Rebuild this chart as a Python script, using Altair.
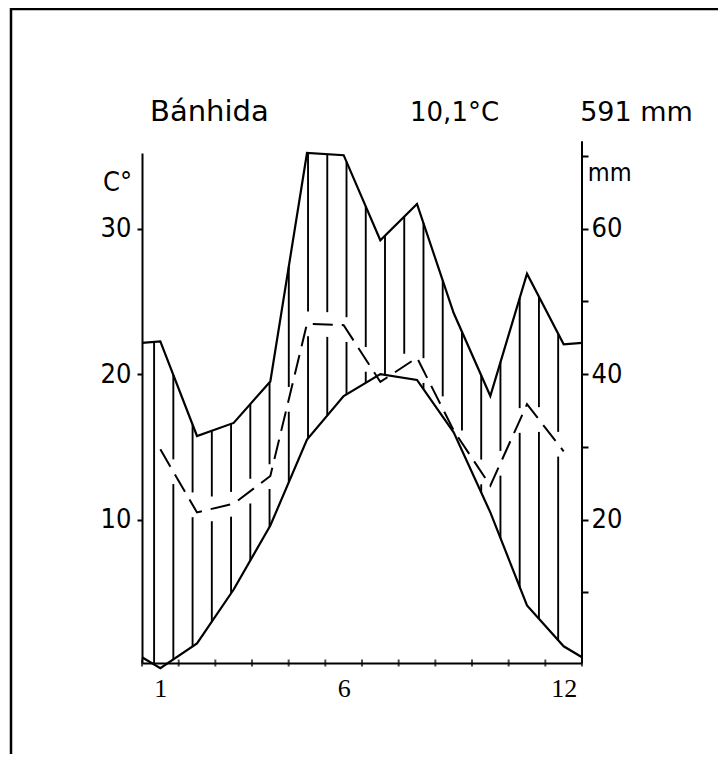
import altair as alt
import pandas as pd
import numpy as np

# ---- data (Walter-Lieth climate diagram) ----
months = list(range(1, 13))
temp_c = [-0.2, 1.5, 5.2, 9.6, 15.5, 18.5, 20.0, 19.6, 16.0, 10.5, 4.1, 1.3]
precip_mm = [44.5, 31.5, 33.3, 39.0, 70.4, 70.1, 58.4, 63.4, 48.4, 37.0, 53.8, 44.1]
station = "Bánhida"
mean_temp_label = "10,1°C"
annual_precip_label = "591 mm"
month_labels = [1, 6, 12]
temp_ticks = [10, 20, 30]
mm_ticks = [10, 20, 30, 40, 50, 60, 70]
month_bounds = [b + 0.5 for b in range(0, 13)]

# curves are closed at the diagram edges with the Dec/Jan mean
edge_t = (temp_c[0] + temp_c[-1]) / 2
edge_p = (precip_mm[0] + precip_mm[-1]) / 2
xs_ext = [0.5] + months + [12.5]
t_ext = [edge_t] + temp_c + [edge_t]
p_ext = [edge_p] + precip_mm + [edge_p]

curve = pd.DataFrame({"m": xs_ext, "t": t_ext, "p": [v / 2 for v in p_ext]})   # 10 °C = 20 mm
dashed = pd.DataFrame({"m": months, "d": [v / 3 for v in precip_mm]})          # 10 °C = 30 mm

# vertical hatching of the humid period
hx = np.linspace(0.83, 11.85, 22)
lo = np.interp(hx, xs_ext, t_ext)
hi = np.interp(hx, xs_ext, [v / 2 for v in p_ext])
dv = np.interp(hx, months, [v / 3 for v in precip_mm])
gap = 0.85
segs = []
for x, a, b, d in zip(hx, lo, hi, dv):
    if b <= a:
        continue
    if 1 <= x <= 12 and a < d < b:
        if d - gap > a:
            segs.append((x, a, d - gap))
        if d + gap < b:
            segs.append((x, d + gap, b))
    else:
        segs.append((x, a, b))
hatch = pd.DataFrame(segs, columns=["m", "y1", "y2"])

SANS = "Liberation Sans Narrow, DejaVu Sans Condensed, DejaVu Sans"
HEAD = "DejaVu Sans"

Y_MIN, Y_MAX = 0.15, 35.2
xs = alt.Scale(domain=[0.5, 12.5], nice=False, zero=False)
ys = alt.Scale(domain=[Y_MIN, Y_MAX], nice=False, zero=False)
X_AX = alt.Axis(values=month_labels, ticks=False, domain=True, domainColor="black",
                domainWidth=2, labelFont="Liberation Serif", labelFontSize=26,
                labelColor="black", labelPadding=12, grid=False, title=None)
Y_AX = alt.Axis(values=temp_ticks, domain=True, domainColor="black", domainWidth=2,
                ticks=True, tickSize=5, tickWidth=2, tickColor="black",
                labelFont=SANS, labelFontSize=27, labelColor="black",
                labelPadding=6, grid=False, title=None)


def X(f):
    return alt.X(f, type="quantitative", scale=xs, axis=X_AX, title=None)


def Y(f):
    return alt.Y(f, type="quantitative", scale=ys, axis=Y_AX, title=None)


hatch_l = alt.Chart(hatch).mark_rule(color="black", strokeWidth=1.9).encode(
    x=X("m"), y=Y("y1"), y2="y2")
temp_l = alt.Chart(curve).mark_line(color="black", strokeWidth=2.2).encode(
    x=X("m"), y=Y("t"), order="m:Q")
prec_l = alt.Chart(curve).mark_line(color="black", strokeWidth=2.2).encode(
    x=X("m"), y=Y("p"), order="m:Q")
dash_l = alt.Chart(dashed).mark_line(color="black", strokeWidth=2, strokeDash=[20, 9]).encode(
    x=X("m"), y=Y("d"), order="m:Q")
ticks_l = alt.Chart(pd.DataFrame({"b": month_bounds, "z": [Y_MIN] * len(month_bounds)})).mark_tick(
    orient="vertical", size=7, thickness=2, color="black").encode(x=X("b"), y=Y("z"))

heads = pd.DataFrame({
    "txt": [station, mean_temp_label, annual_precip_label],
    "m": [0.72, 7.81, 12.45],
    "t": [37.4, 37.4, 37.4],
    "fs": [29, 26, 27],
})
head_l = alt.Chart(heads).mark_text(font=HEAD, align="left",
                                    baseline="alphabetic", color="black").encode(
    x=X("m"), y=Y("t"), text="txt:N",
    size=alt.Size("fs:Q", scale=None, legend=None))
unit_c = alt.Chart(pd.DataFrame({"txt": ["C°"], "m": [0.23], "t": [32.6]})).mark_text(
    font=SANS, fontSize=27, align="right", baseline="alphabetic", color="black").encode(
    x=X("m"), y=Y("t"), text="txt:N")
unit_mm = alt.Chart(pd.DataFrame({"txt": ["mm"], "m": [12.66], "t": [33.3]})).mark_text(
    font=SANS, fontSize=25, align="left", baseline="alphabetic", color="black").encode(
    x=X("m"), y=Y("t"), text="txt:N")

# page frame: only its left and top edges fall inside the picture
one = pd.DataFrame({"a": [0]})
frame = alt.Chart(one).mark_rect(fill=None, fillOpacity=0, stroke="black", strokeWidth=2.5).encode(
    x=alt.value(-131), x2=alt.value(900), y=alt.value(-144), y2=alt.value(900))

main = alt.layer(hatch_l, temp_l, prec_l, dash_l, ticks_l, head_l, unit_c, unit_mm, frame)

MM_AX = alt.Axis(orient="right", values=mm_ticks,
                 labelExpr="datum.value % 20 == 0 ? datum.label : ''",
                 domain=False, ticks=True, tickSize=6, tickWidth=2, tickColor="black",
                 labelFont=SANS, labelFontSize=27, labelColor="black", labelPadding=3,
                 grid=False, title=None)
right_axis = alt.Chart(pd.DataFrame({"m": [12.5], "lo": [Y_MIN * 2], "hi": [72]})).mark_rule(
    color="black", strokeWidth=2).encode(
    x=X("m"),
    y=alt.Y("lo:Q", scale=alt.Scale(domain=[Y_MIN * 2, Y_MAX * 2], nice=False, zero=False),
            axis=MM_AX, title=None),
    y2="hi:Q")

chart = alt.layer(main, right_axis).resolve_scale(y="independent").properties(
    width=440, height=510,
    padding={"left": 134, "top": 145, "right": 136, "bottom": 91},
    autosize=alt.AutoSizeParams(type="none"),
    background="white",
).configure_view(stroke=None)

chart.save("out.html", embed_options={"renderer": "svg", "actions": False})
